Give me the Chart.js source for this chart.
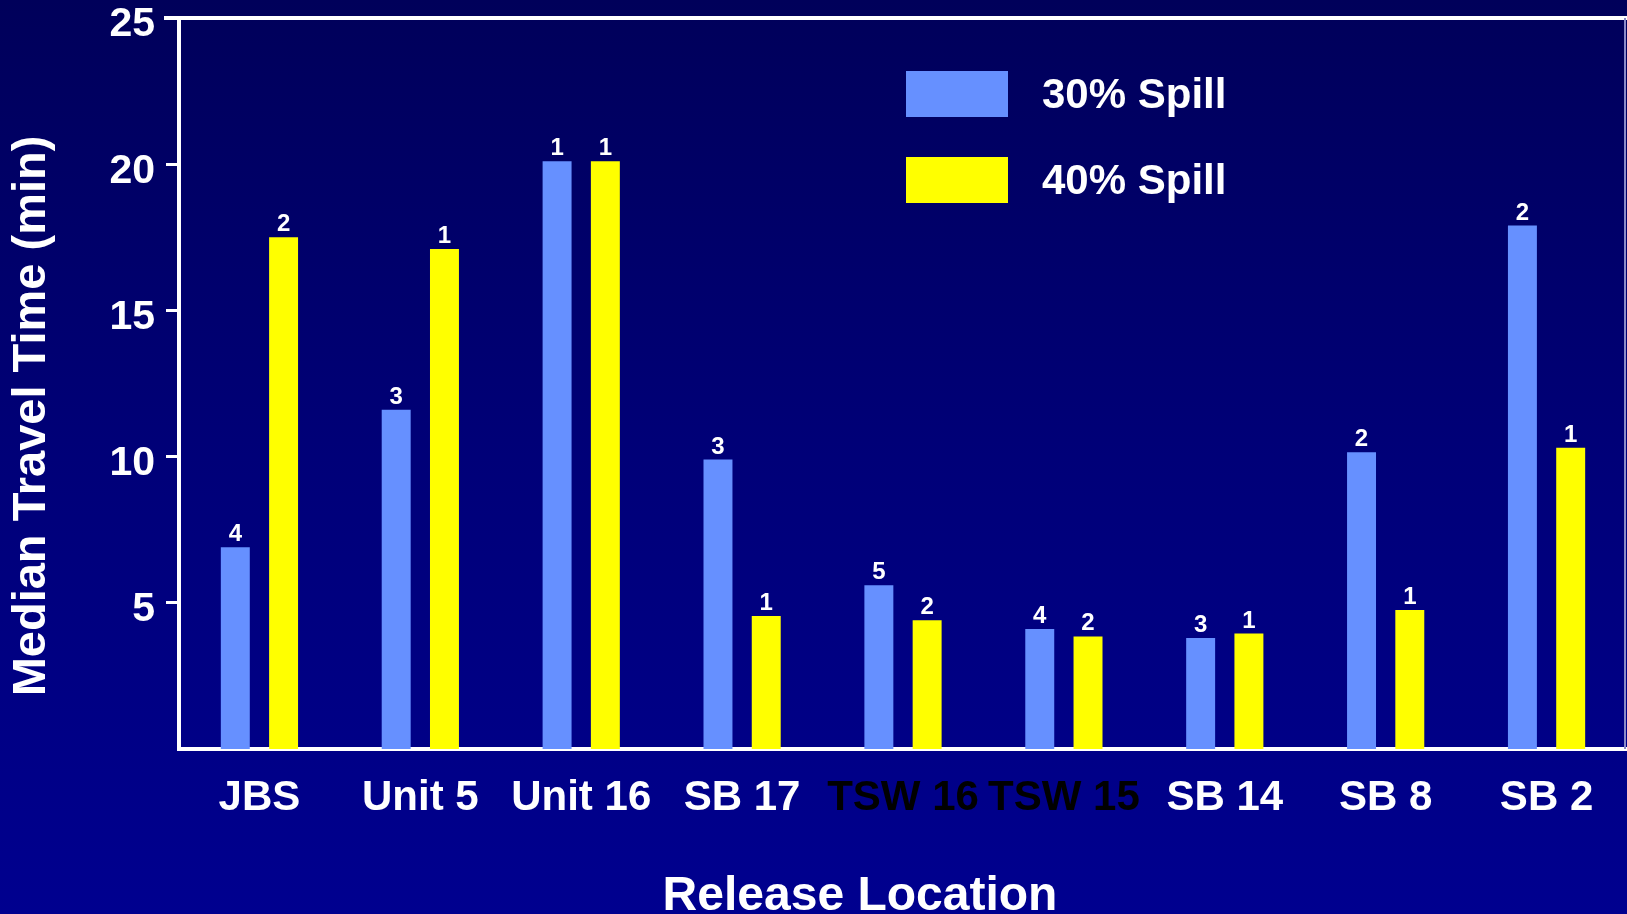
<!DOCTYPE html>
<html>
<head>
<meta charset="utf-8">
<title>Median Travel Time by Release Location</title>
<script src="https://cdn.jsdelivr.net/npm/chart.js@4.4.1/dist/chart.umd.min.js"></script>
<style>
  html, body { margin: 0; padding: 0; }
  body {
    width: 1627px; height: 914px; overflow: hidden;
    background: linear-gradient(to bottom, #00005a 0%, #000078 50%, #00008f 100%);
  }
  canvas { display: block; }
</style>
</head>
<body>
<canvas id="chart" width="1627" height="914"></canvas>
<script>
// Release locations along the x axis
const categories = ['JBS', 'Unit 5', 'Unit 16', 'SB 17', 'TSW 16', 'TSW 15', 'SB 14', 'SB 8', 'SB 2'];
// Median travel time (min) for each spill level
const spill30 = [6.9, 11.6, 20.1, 9.9, 5.6, 4.1, 3.8, 10.15, 17.9];
const spill40 = [17.5, 17.1, 20.1, 4.55, 4.4, 3.85, 3.95, 4.75, 10.3];
// Number of releases behind each median
const count30 = [4, 3, 1, 3, 5, 4, 3, 2, 2];
const count40 = [2, 1, 1, 1, 2, 2, 1, 1, 1];
// Value axis ticks
const yTicks = [5, 10, 15, 20, 25];
// Category label colours
const labelColors = ['#ffffff', '#ffffff', '#ffffff', '#ffffff', '#000000', '#000000', '#ffffff', '#ffffff', '#ffffff'];

const FONT = '"Liberation Sans", Arial, Helvetica, sans-serif';
const WHITE = '#ffffff';

// Frame, counts above bars, legend and axis titles
const slideDecor = {
  id: 'slideDecor',
  afterDatasetsDraw(chart) {
    const ctx = chart.ctx;
    const counts = [count30, count40];
    ctx.save();
    ctx.fillStyle = WHITE;
    ctx.font = 'bold 24px ' + FONT;
    ctx.textAlign = 'center';
    ctx.textBaseline = 'alphabetic';
    chart.data.datasets.forEach((ds, di) => {
      const meta = chart.getDatasetMeta(di);
      meta.data.forEach((bar, i) => {
        ctx.fillText(String(counts[di][i]), bar.x, bar.y - 6);
      });
    });
    ctx.restore();
  },
  afterDraw(chart) {
    const ctx = chart.ctx;
    const a = chart.chartArea;
    ctx.save();

    // top border and right edge of the plot frame
    ctx.strokeStyle = WHITE;
    ctx.lineWidth = 4;
    ctx.beginPath();
    ctx.moveTo(a.left - 15, a.top);
    ctx.lineTo(chart.width, a.top);
    ctx.stroke();
    ctx.strokeStyle = '#8a8ac8';
    ctx.lineWidth = 2;
    ctx.beginPath();
    ctx.moveTo(chart.width - 2, a.top);
    ctx.lineTo(chart.width - 2, a.bottom);
    ctx.stroke();

    // legend
    const lx = a.left + 727;
    const rows = [a.top + 76, a.top + 162];
    ctx.font = 'bold 42px ' + FONT;
    ctx.textAlign = 'left';
    ctx.textBaseline = 'middle';
    chart.data.datasets.forEach((ds, di) => {
      const cy = rows[di];
      ctx.fillStyle = ds.backgroundColor;
      ctx.fillRect(lx, cy - 23, 102, 46);
      ctx.fillStyle = WHITE;
      ctx.fillText(ds.label, lx + 136, cy + 2);
    });

    // y axis title
    ctx.save();
    ctx.translate(32, 416);
    ctx.rotate(-Math.PI / 2);
    ctx.font = 'bold 47px ' + FONT;
    ctx.textAlign = 'center';
    ctx.textBaseline = 'middle';
    ctx.fillStyle = WHITE;
    ctx.fillText('Median Travel Time (min)', 0, 0);
    ctx.restore();

    // x axis title
    ctx.font = 'bold 48px ' + FONT;
    ctx.textAlign = 'center';
    ctx.textBaseline = 'alphabetic';
    ctx.fillStyle = WHITE;
    ctx.fillText('Release Location', 860, a.bottom + 161);

    ctx.restore();
  }
};

new Chart(document.getElementById('chart'), {
  type: 'bar',
  data: {
    labels: categories,
    datasets: [
      { label: '30% Spill', data: spill30, backgroundColor: '#6690ff', borderWidth: 0 },
      { label: '40% Spill', data: spill40, backgroundColor: '#ffff00', borderWidth: 0 }
    ]
  },
  options: {
    responsive: false,
    animation: false,
    devicePixelRatio: 1,
    categoryPercentage: 0.6,
    barPercentage: 0.6,
    layout: { padding: { top: 18, right: -3, left: 0, bottom: 0 } },
    plugins: {
      legend: { display: false },
      tooltip: { enabled: false }
    },
    scales: {
      x: {
        grid: { display: false, drawTicks: false },
        border: { display: true, color: WHITE, width: 4 },
        ticks: {
          color: (c) => labelColors[c.index],
          font: { family: FONT, size: 42, weight: 'bold' },
          padding: 24,
          maxRotation: 0,
          autoSkip: false
        },
        afterFit: (s) => { s.height = 165; s.paddingLeft = 0; s.paddingRight = 0; }
      },
      y: {
        min: 0,
        max: 25,
        afterBuildTicks: (s) => { s.ticks = yTicks.map(v => ({ value: v })); },
        grid: {
          drawOnChartArea: false,
          drawTicks: true,
          tickLength: 13,
          color: WHITE,
          lineWidth: 3
        },
        border: { display: true, color: WHITE, width: 4 },
        ticks: {
          color: WHITE,
          font: { family: FONT, size: 41, weight: 'bold' },
          padding: 11,
          labelOffset: 7
        },
        afterFit: (s) => { s.width = 179; s.paddingTop = 0; s.paddingBottom = 0; }
      }
    }
  },
  plugins: [slideDecor]
});
</script>
</body>
</html>
